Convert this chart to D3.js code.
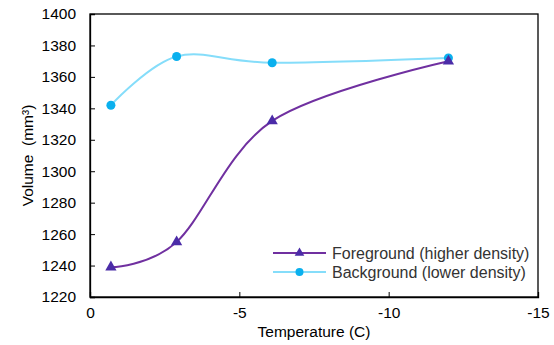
<!DOCTYPE html>
<html>
<head>
<meta charset="utf-8">
<script src="https://cdn.jsdelivr.net/npm/d3@7"></script>
<style>
  body { margin: 0; background: #fff; }
  text { font-family: "Liberation Sans", Arial, sans-serif; }
</style>
</head>
<body>
<svg id="chart"></svg>
<script>
// Data
const temps = [-0.7, -2.9, -6.1, -12];
const foreground = [1239, 1255, 1332, 1370];
const background = [1342, 1373, 1369, 1372];
const xTicks = [0, -5, -10, -15];
const yTicks = [1220, 1240, 1260, 1280, 1300, 1320, 1340, 1360, 1380, 1400];

const width = 554, height = 345;
const margin = { top: 14, right: 16, bottom: 48, left: 90 };
const fontSize = "15.5px";

const svg = d3.select("#chart")
  .attr("width", width)
  .attr("height", height);

const x = d3.scaleLinear()
  .domain([0, -15])
  .range([margin.left, width - margin.right]);

const y = d3.scaleLinear()
  .domain([1220, 1400])
  .range([height - margin.bottom, margin.top]);

// frame
svg.append("rect")
  .attr("x", x(0))
  .attr("y", y(1400))
  .attr("width", x(-15) - x(0))
  .attr("height", y(1220) - y(1400))
  .attr("fill", "none")
  .attr("stroke", "#000")
  .attr("stroke-width", 1.3);

// axes with inward ticks, plain hyphen for negatives
const xAxis = svg.append("g")
  .attr("transform", `translate(0,${y(1220)})`)
  .call(d3.axisBottom(x).tickValues(xTicks).tickSize(-5).tickPadding(10).tickFormat(d => String(d)));

const yAxis = svg.append("g")
  .attr("transform", `translate(${x(0)},0)`)
  .call(d3.axisLeft(y).tickValues(yTicks).tickSize(-5).tickPadding(14).tickFormat(d => String(d)));

[xAxis, yAxis].forEach(g => {
  g.select(".domain").attr("stroke", "#000").attr("stroke-width", 1.3);
  g.selectAll(".tick line").attr("stroke", "#000");
  g.selectAll(".tick text")
    .attr("fill", "#000")
    .style("font-size", fontSize)
    .style("font-family", "'Liberation Sans', Arial, sans-serif");
});

// axis titles
svg.append("text")
  .attr("x", (x(0) + x(-15)) / 2)
  .attr("y", 337)
  .attr("text-anchor", "middle")
  .style("font-size", fontSize)
  .text("Temperature (C)");

svg.append("text")
  .attr("transform", `translate(33,${(y(1220) + y(1400)) / 2}) rotate(-90)`)
  .attr("text-anchor", "middle")
  .style("font-size", fontSize)
  .style("white-space", "pre")
  .text("Volume  (mm³)");

const line = d3.line()
  .x(d => x(d[0]))
  .y(d => y(d[1]))
  .curve(d3.curveCatmullRom.alpha(0));

const series = [
  { name: "Foreground (higher density)", values: foreground, line: "#7030A0", mark: "#4B2CA8", shape: d3.symbolTriangle },
  { name: "Background (lower density)", values: background, line: "#85DDFA", mark: "#0AB0EE", shape: d3.symbolCircle }
];

series.slice().reverse().forEach(s => {
  const pts = temps.map((t, i) => [t, s.values[i]]);
  svg.append("path")
    .datum(pts)
    .attr("d", line)
    .attr("fill", "none")
    .attr("stroke", s.line)
    .attr("stroke-width", 2);

  svg.selectAll(null)
    .data(pts)
    .join("path")
    .attr("transform", d => `translate(${x(d[0])},${y(d[1])})`)
    .attr("d", d3.symbol().type(s.shape).size(s.shape === d3.symbolCircle ? 64 : 55))
    .attr("fill", s.mark);
});

// legend
const legend = svg.append("g").attr("transform", "translate(273,253)");
series.forEach((s, i) => {
  const g = legend.append("g").attr("transform", `translate(0,${i * 19})`);
  g.append("line")
    .attr("x1", 0).attr("x2", 53)
    .attr("stroke", s.line).attr("stroke-width", 2);
  g.append("path")
    .attr("transform", "translate(26.5,0)")
    .attr("d", d3.symbol().type(s.shape).size(s.shape === d3.symbolCircle ? 50 : 40))
    .attr("fill", s.mark);
  g.append("text")
    .attr("x", 59)
    .attr("dy", "0.35em")
    .attr("fill", "#333")
    .style("font-size", "16px")
    .text(s.name);
});
</script>
</body>
</html>
